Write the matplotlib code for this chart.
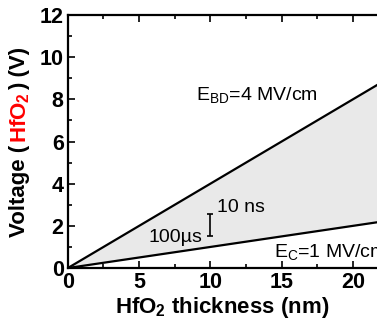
import matplotlib
matplotlib.use("Agg")
import matplotlib.pyplot as plt
from matplotlib.ticker import MultipleLocator

plt.rcParams["font.family"] = ["Liberation Sans", "DejaVu Sans"]
plt.rcParams["mathtext.fontset"] = "custom"
plt.rcParams["mathtext.rm"] = "Liberation Sans"
plt.rcParams["mathtext.bf"] = "Liberation Sans:bold"

# data
thickness_nm = [0, 25]
v_breakdown = [0, 10.0]   # E_BD = 4 MV/cm
v_coercive = [0, 2.5]     # E_C = 1 MV/cm
err_x = [10]
err_lo = [1.5]
err_hi = [2.55]

BLACK = "#000000"
FILL = "#e9e9e9"

fig = plt.figure(figsize=(3.77, 3.21), dpi=100)
ax = fig.add_axes([0.180, 0.165, 0.82, 0.788])

ax.fill_between(thickness_nm, v_coercive, v_breakdown, color=FILL, lw=0, zorder=1)
ax.plot(thickness_nm, v_breakdown, color=BLACK, lw=1.6, zorder=3)
ax.plot(thickness_nm, v_coercive, color=BLACK, lw=1.6, zorder=3)

mid = [(a + b) / 2 for a, b in zip(err_lo, err_hi)]
half = [(b - a) / 2 for a, b in zip(err_lo, err_hi)]
ax.errorbar(err_x, mid, yerr=half, fmt="none", ecolor=BLACK, elinewidth=1.2,
            capsize=2.5, capthick=1.2, zorder=4)

fs_ann = 14
ax.text(10.45, 2.85, "10 ns", fontsize=fs_ann, ha="left", va="center")
ax.text(9.45, 1.45, "100µs", fontsize=fs_ann, ha="right", va="center")
ax.text(9.0, 8.15, r"E$_\mathrm{BD}$=4 MV/cm", fontsize=fs_ann, ha="left", va="center")
ax.text(14.5, 0.7, r"E$_\mathrm{C}$=1 MV/cm", fontsize=fs_ann, ha="left", va="center")

ax.set_xlim(0, 21.7)
ax.set_ylim(0, 12)
ax.xaxis.set_major_locator(MultipleLocator(5))
ax.xaxis.set_minor_locator(MultipleLocator(2.5))
ax.yaxis.set_major_locator(MultipleLocator(2))
ax.yaxis.set_minor_locator(MultipleLocator(1))
ax.tick_params(which="both", direction="in", top=True, right=False, width=1.2)
ax.tick_params(which="major", length=5, labelsize=15.5, pad=3)
ax.tick_params(which="minor", length=3)
for lab in ax.get_xticklabels() + ax.get_yticklabels():
    lab.set_fontweight("bold")
ax.spines["right"].set_visible(False)
for s in ["left", "bottom", "top"]:
    ax.spines[s].set_linewidth(1.6)

ax.set_xlabel(r"HfO$_\mathbf{2}$ thickness (nm)", fontsize=16, fontweight="bold", labelpad=1)

# y label in three colored pieces, stacked bottom to top
fig.canvas.draw()
r = fig.canvas.get_renderer()
pieces = [("Voltage (", BLACK), (r"HfO$_\mathbf{2}$", "red"), (") (V)", BLACK)]
x_px = 20
y_px = 321 - 237
for txt, col in pieces:
    t = fig.text(x_px / 377, y_px / 321, txt, rotation=90, ha="center", va="bottom",
                 fontsize=16, fontweight="bold", color=col)
    bb = t.get_window_extent(renderer=r)
    y_px += bb.height + 2

fig.savefig("out.png", dpi=100)
